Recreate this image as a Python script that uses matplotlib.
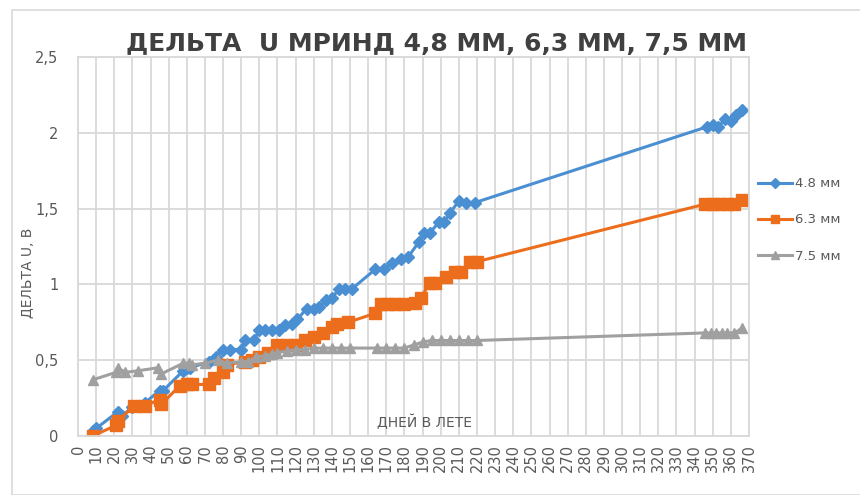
import matplotlib
matplotlib.use("Agg")
import matplotlib.pyplot as plt
from matplotlib.patches import Rectangle
from matplotlib.ticker import FuncFormatter

# Замеры: день и дельта U (В) для трёх диаметров
days_48 = [8, 10, 22, 24, 30, 37, 45, 47, 58, 60, 62, 72, 76, 80, 84, 90, 92, 97,
           100, 103, 107, 111, 114, 118, 121, 126, 130, 133, 137, 140, 144, 147, 151,
           164, 169, 173, 178, 182, 188, 191, 194, 199, 202, 205, 210, 214, 219,
           347, 350, 353, 357, 360, 363, 366]
du_48 = [0.03, 0.05, 0.16, 0.13, 0.19, 0.22, 0.30, 0.30, 0.43, 0.45, 0.45, 0.49, 0.52,
         0.57, 0.57, 0.57, 0.63, 0.63, 0.70, 0.70, 0.70, 0.70, 0.73, 0.74, 0.77, 0.84,
         0.84, 0.85, 0.90, 0.91, 0.97, 0.97, 0.97, 1.10, 1.10, 1.14, 1.17, 1.18, 1.28,
         1.34, 1.34, 1.41, 1.41, 1.47, 1.55, 1.54, 1.54, 2.04, 2.05, 2.04, 2.09, 2.08,
         2.12, 2.15]

days_63 = [8, 21, 22, 31, 37, 45, 46, 56, 60, 63, 72, 75, 80, 82, 92, 96, 100, 105,
           110, 115, 120, 125, 130, 135, 140, 143, 149, 164, 167, 171, 175, 180, 186,
           189, 194, 197, 203, 208, 211, 216, 220, 346, 350, 354, 358, 362, 366]
du_63 = [0.0, 0.07, 0.10, 0.20, 0.20, 0.24, 0.21, 0.33, 0.34, 0.34, 0.34, 0.38, 0.42,
         0.47, 0.49, 0.50, 0.52, 0.55, 0.60, 0.60, 0.60, 0.63, 0.65, 0.68, 0.72, 0.74,
         0.75, 0.81, 0.87, 0.87, 0.87, 0.87, 0.88, 0.91, 1.01, 1.01, 1.05, 1.08, 1.08,
         1.15, 1.15, 1.53, 1.53, 1.53, 1.53, 1.53, 1.56]

days_75 = [8, 21, 22, 26, 33, 44, 46, 58, 61, 63, 70, 77, 82, 90, 94, 98, 103, 107,
           110, 115, 120, 125, 130, 135, 140, 145, 150, 165, 170, 175, 180, 185, 190,
           195, 200, 205, 210, 215, 220, 346, 349, 352, 355, 358, 362, 366]
du_75 = [0.37, 0.42, 0.45, 0.42, 0.43, 0.45, 0.41, 0.48, 0.48, 0.47, 0.48, 0.50, 0.48,
         0.49, 0.49, 0.52, 0.53, 0.54, 0.55, 0.56, 0.57, 0.57, 0.58, 0.58, 0.58, 0.58,
         0.58, 0.58, 0.58, 0.58, 0.58, 0.60, 0.62, 0.63, 0.63, 0.63, 0.63, 0.63, 0.63,
         0.68, 0.68, 0.68, 0.68, 0.68, 0.68, 0.71]

x_ticks = list(range(0, 371, 10))
y_ticks = [0, 0.5, 1, 1.5, 2, 2.5]

plt.rcParams["font.family"] = ["DejaVu Sans"]

GRID = "#d9d9d9"
TEXT = "#595959"

fig = plt.figure(figsize=(8.6, 4.95), dpi=100)
ax = fig.add_axes([78 / 860, 1 - 436 / 495, (749 - 78) / 860, (436 - 57) / 495])

ax.plot(days_48, du_48, color="#4a8fd2", lw=2.2, marker="D", ms=6.5, label="4.8 мм")
ax.plot(days_63, du_63, color="#ec6d1b", lw=2.2, marker="s", ms=8.5, label="6.3 мм")
ax.plot(days_75, du_75, color="#a0a0a0", lw=2.2, marker="^", ms=7.5, label="7.5 мм")

ax.set_xlim(0, 370)
ax.set_ylim(0, 2.5)
ax.set_xticks(x_ticks)
ax.set_yticks(y_ticks)
ax.yaxis.set_major_formatter(FuncFormatter(lambda v, p: f"{v:g}".replace(".", ",")))
ax.set_xticklabels([str(t) for t in x_ticks], rotation=90)
ax.tick_params(axis="both", length=0, colors=TEXT, labelsize=10.5)
ax.tick_params(axis="x", pad=6)
ax.tick_params(axis="y", pad=14)
ax.grid(True, color=GRID, lw=1.3)
ax.set_axisbelow(True)
for sp in ax.spines.values():
    sp.set_color(GRID)
    sp.set_linewidth(1.3)

ax.set_ylabel("ДЕЛЬТА U, В", color=TEXT, fontsize=10)
ax.yaxis.set_label_coords(-0.064, 0.43)
ax.text(0.517, 0.037, "ДНЕЙ В ЛЕТЕ", transform=ax.transAxes,
        ha="center", va="center", color=TEXT, fontsize=10)

fig.text(0.508, 0.912, "ДЕЛЬТА  U МРИНД 4,8 ММ, 6,3 ММ, 7,5 ММ", ha="center",
         va="center", fontsize=18, fontweight="bold", color="#404040")

ax.legend(loc="center left", bbox_to_anchor=(0.995, 0.57), frameon=False,
          labelcolor=TEXT, fontsize=9.5, handlelength=2.6, labelspacing=1.75,
          handletextpad=0.25, markerscale=0.75)

# рамка области диаграммы
fig.patches.append(Rectangle((12 / 860, 0), 1, 1 - 10 / 495, transform=fig.transFigure,
                             fill=False, edgecolor=GRID, lw=1.2))

fig.savefig("out.png", dpi=100)
